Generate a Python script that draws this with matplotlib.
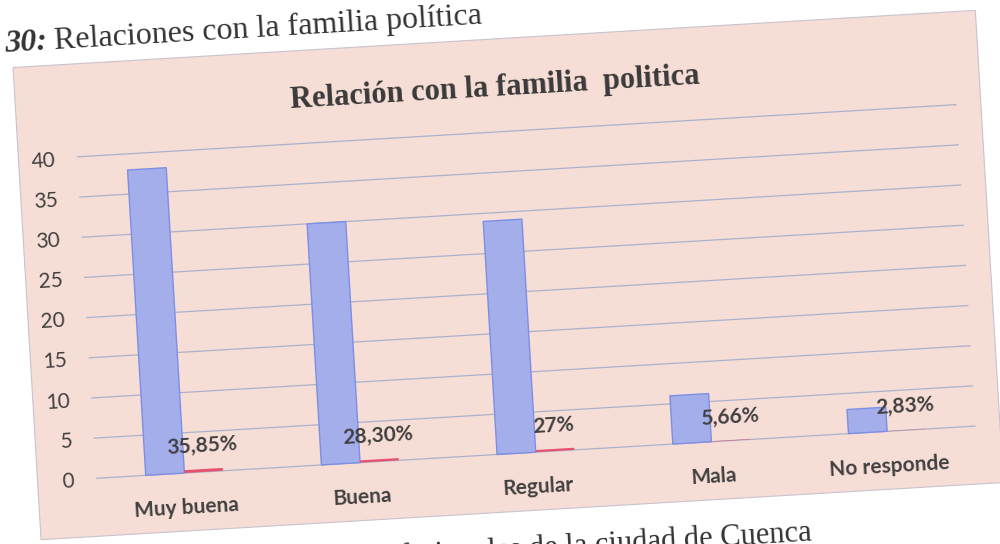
import numpy as np
import matplotlib
matplotlib.use("Agg")
import matplotlib.pyplot as plt
from matplotlib.artist import Artist
from matplotlib.patches import Rectangle, Patch
from matplotlib.lines import Line2D
from matplotlib.text import Text
from matplotlib.transforms import Affine2D

# ---------------- datos
categorias = ["Muy buena", "Buena", "Regular", "Mala", "No responde"]
frecuencia = [38, 30, 29, 6, 3]
porcentaje = [0.3585, 0.2830, 0.27, 0.0566, 0.0283]
etiquetas_pct = ["35,85%", "28,30%", "27%", "5,66%", "2,83%"]
ticks_y = [0, 5, 10, 15, 20, 25, 30, 35, 40]

titulo = "Relación con la familia  politica"
encabezado_num = "30:"
encabezado = "Relaciones con la familia política"
pie = "Fuente: parejas de profesionales de la ciudad de Cuenca"

# ---------------- estilo
W, H, DPI = 10, 5.44, 100
ANG = 3.4            # the scan is tilted a bit
fondo = "#f6ddd5"
azul = "#a3aeea"
azul_borde = "#7d8fe4"
rojo = "#e8506e"
gris_txt = "#404040"
rejilla = "#aab2cc"
sans = ["Lato", "DejaVu Sans"]
serif = ["Liberation Serif", "DejaVu Serif"]

fig = plt.figure(figsize=(W, H), dpi=DPI)
fig.patch.set_facecolor("white")

def fx(px):
    return px / (W * DPI)

def fy(px):
    return px / (H * DPI)

# caption below the chart box (mostly cut off by the page edge)
fig.text(fx(796), fy(8), pie, ha="right", va="top", fontsize=22,
         family=serif, color="#333333", zorder=0.5)

# chart box
caja = Rectangle((fx(26), fy(32)), fx(964), fy(473), transform=fig.transFigure,
                 facecolor=fondo, edgecolor="#c8c3cf", lw=0.8, zorder=1)
fig.add_artist(caja)

# heading above the box
t_num = fig.text(fx(19), fy(521), encabezado_num, ha="left", va="baseline",
                 fontsize=23, family=serif, fontweight="bold", style="italic",
                 color="#333333", zorder=3)
fig.canvas.draw()
bb = t_num.get_window_extent()
fig.text(fx(bb.x1 + 7), fy(521), encabezado, ha="left", va="baseline",
         fontsize=23, family=serif, color="#333333", zorder=3)

# chart title
fig.text(fx(506), fy(448), titulo, ha="center", va="baseline", fontsize=22,
         family=serif, fontweight="bold", color="#3a3a3a", zorder=3)

# ---------------- axes
ax = fig.add_axes([fx(85), fy(90), fx(880), fy(322)])
ax.set_zorder(2)
ax.patch.set_visible(False)
for s in ax.spines.values():
    s.set_visible(False)

x = np.arange(len(categorias))
w = 0.22
ax.bar(x - w / 2, frecuencia, w, color=azul, edgecolor=azul_borde, lw=1.0, zorder=3)
ax.bar(x + w / 2, porcentaje, w, color=rojo, lw=0, zorder=3)

for i in range(len(categorias)):
    ax.text(x[i] + w / 2, porcentaje[i] + 2.9, etiquetas_pct[i], ha="center",
            va="center", fontsize=15, family=sans, fontweight="bold",
            color=gris_txt, zorder=4)

ax.set_xlim(-0.5, 4.5)
ax.set_ylim(0, 40)
ax.set_yticks(ticks_y)
ax.set_xticks(x, categorias, fontsize=15, family=sans, fontweight="bold",
              color=gris_txt)
for lab in ax.get_yticklabels():
    lab.set_fontsize(15)
    lab.set_family(sans)
    lab.set_color(gris_txt)
ax.tick_params(axis="y", length=0, pad=16)
ax.tick_params(axis="x", length=0, pad=18)
ax.grid(axis="y", color=rejilla, lw=0.9)
ax.set_axisbelow(True)

# ---------------- tilt everything like the scanned page
fig.canvas.draw()
rot = Affine2D().rotate_deg_around(W * DPI / 2, H * DPI / 2, ANG)
vistos = set()
for art in fig.findobj():
    if art is fig or art is fig.patch or id(art) in vistos:
        continue
    vistos.add(id(art))
    if isinstance(art, (Text, Line2D, Patch)):
        # base transform only (patches add their own patch transform on top)
        art.set_transform(Artist.get_transform(art) + rot)
        art.set_clip_on(False)
        if isinstance(art, Text):
            art.set_rotation(art.get_rotation() + ANG)
            art.set_rotation_mode("anchor")

fig.savefig("out.png", dpi=DPI)
